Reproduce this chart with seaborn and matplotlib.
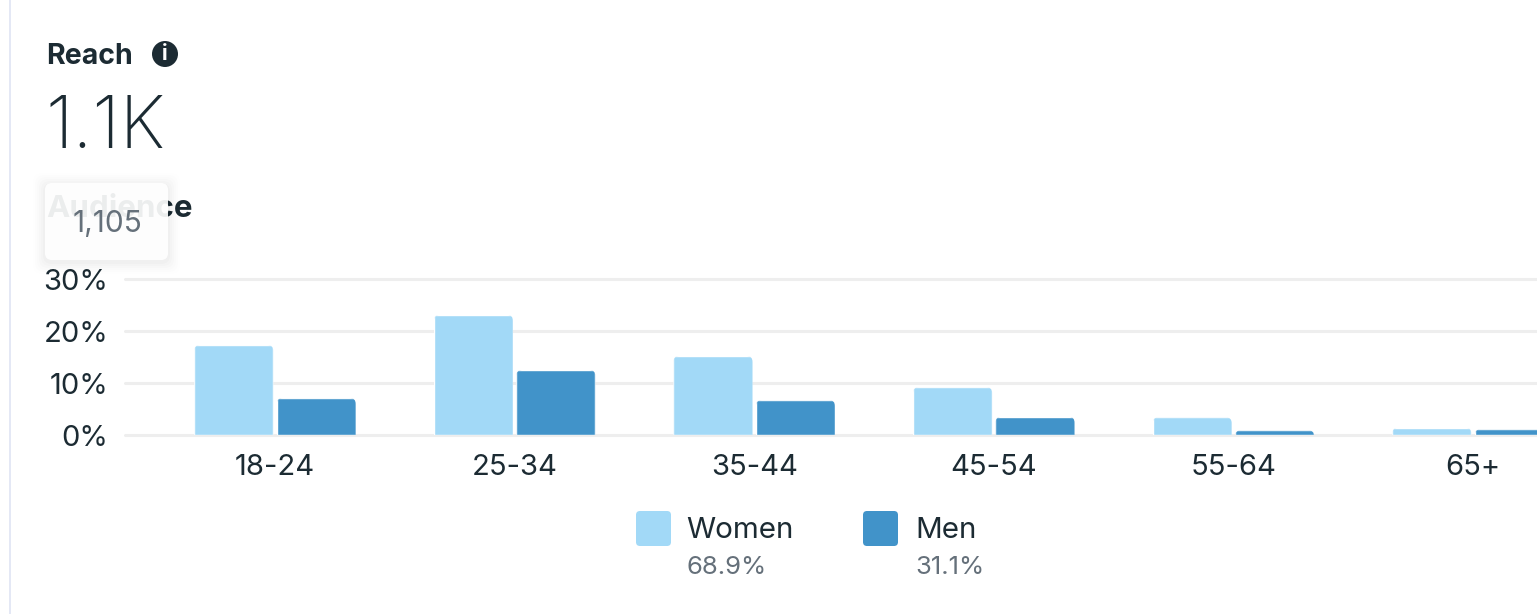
import matplotlib
matplotlib.use('Agg')
import matplotlib.pyplot as plt
import pandas as pd
import seaborn as sns
from matplotlib.patches import FancyBboxPatch, Rectangle, Circle
from matplotlib.transforms import IdentityTransform

age_groups = ['18-24', '25-34', '35-44', '45-54', '55-64', '65+']
women = [17.3, 23.1, 15.2, 9.2, 3.4, 1.4]
men = [7.1, 12.5, 6.7, 3.5, 0.9, 1.1]
y_ticks = [0, 10, 20, 30]
y_tick_labels = ['0%', '10%', '20%', '30%']
gender_names = ['Women', 'Men']
gender_shares = ['68.9%', '31.1%']

W, H = 1537, 614
DARK = '#1c2b33'
GREY = '#65707a'
LIGHT_BLUE = '#a2d9f7'
MID_BLUE = '#4193c9'

sns.set_theme(style='white')
plt.rcParams['font.family'] = ['Inter', 'DejaVu Sans']

df = pd.DataFrame({
    'age': age_groups * 2,
    'gender': ['Women'] * 6 + ['Men'] * 6,
    'share': women + men,
})

fig = plt.figure(figsize=(W / 100, H / 100), dpi=100, facecolor='white')

# chart area in pixels: x from 125 to the right edge, 0% at y=435, 30% at y=279
ax = fig.add_axes([125 / W, 1 - 435 / H, (W - 125) / W, 156 / H])
sns.barplot(data=df, x='age', y='share', hue='gender', order=age_groups,
            hue_order=gender_names, palette=[LIGHT_BLUE, MID_BLUE], saturation=1,
            width=0.688, gap=0.04, legend=False, ax=ax, zorder=3)

ax.set_xlim(-0.626, 5.267)
ax.set_ylim(0, 30)
ax.set_yticks(y_ticks)
ax.set_yticklabels(y_tick_labels)
ax.set_xlabel('')
ax.set_ylabel('')
ax.grid(axis='y', color='#eeeeee', linewidth=2.2, zorder=0)
ax.set_axisbelow(True)
for s in ax.spines.values():
    s.set_visible(False)
ax.tick_params(axis='x', length=0, pad=14, labelsize=21, labelcolor=DARK)
ax.tick_params(axis='y', length=0, pad=12, labelsize=21, labelcolor=DARK)
for line in ax.get_ygridlines():
    line.set_clip_on(False)

# rounded bar tops
fig.canvas.draw()
for bar in ax.patches:
    box = bar.get_window_extent()
    if box.height < 0.5:
        continue
    clip = FancyBboxPatch((box.x0 + 5, box.y0 - 20), box.width - 10, box.height + 15,
                          boxstyle='round,pad=5,rounding_size=6',
                          transform=IdentityTransform())
    bar.set_clip_path(clip)

# overlay in pixel coordinates for the header, tooltip and legend
over = fig.add_axes([0, 0, 1, 1], facecolor='none', zorder=5)
over.set_xlim(0, W)
over.set_ylim(H, 0)
over.axis('off')

over.add_patch(Rectangle((8.5, 0), 2, H, color='#e4e8f5', lw=0))

over.text(46, 56, 'Reach', fontsize=20.5, fontweight='bold', color=DARK, va='center')
over.add_patch(Circle((165, 54), 13, color=DARK, lw=0))
over.text(165, 54, 'i', fontsize=15, fontweight='bold', color='white', ha='center', va='center')
over.text(45, 129, '1.1K', fontsize=52, color=DARK, va='center', fontweight='light')
over.text(46, 209, 'Audience', fontsize=22.5, fontweight='bold', color=DARK, va='center', zorder=0.5)

# tooltip with soft shadow, drawn over the Audience heading
for grow, alpha in zip([12, 10, 8, 6, 4, 2], [0.004, 0.006, 0.008, 0.01, 0.012, 0.014]):
    over.add_patch(FancyBboxPatch((45 - grow, 183 - grow + 2), 123 + 2 * grow, 77 + 2 * grow,
                                  boxstyle='round,pad=0,rounding_size=9',
                                  fc='black', ec='none', alpha=alpha, zorder=1))
over.add_patch(FancyBboxPatch((45, 183), 123, 77, boxstyle='round,pad=0,rounding_size=7',
                              fc='white', ec='none', alpha=0.92, zorder=1.1))
over.text(107, 224, '1,105', fontsize=21.5, color=GREY, ha='center', va='center', zorder=3)

# legend
legend_x = [636, 863]
text_x = [686, 915]
for name, share, color, lx, tx in zip(gender_names, gender_shares,
                                      [LIGHT_BLUE, MID_BLUE], legend_x, text_x):
    over.add_patch(FancyBboxPatch((lx, 511), 35, 35, boxstyle='round,pad=0,rounding_size=4',
                                  fc=color, ec='none'))
    over.text(tx, 531, name, fontsize=21.3, color=DARK, va='center')
    over.text(tx, 568, share, fontsize=18.5, color=GREY, va='center')

fig.savefig('out.png', dpi=100, facecolor='white')
